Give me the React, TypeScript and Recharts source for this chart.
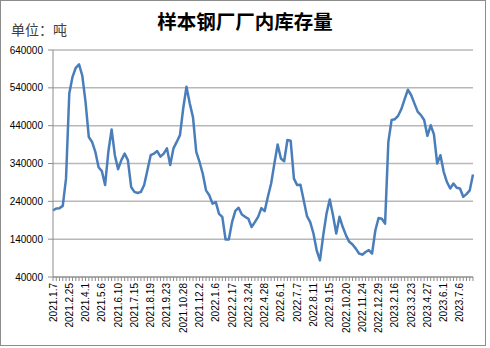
import { LineChart, Line, XAxis, YAxis, CartesianGrid } from 'recharts';

const dates = [
  '2021.1.7', '2021.1.14', '2021.1.21', '2021.1.28', '2021.2.4', '2021.2.25', '2021.3.4', '2021.3.11', '2021.3.18', '2021.3.25',
  '2021.4.1', '2021.4.8', '2021.4.15', '2021.4.22', '2021.4.29', '2021.5.6', '2021.5.13', '2021.5.20', '2021.5.27', '2021.6.3',
  '2021.6.10', '2021.6.17', '2021.6.24', '2021.7.1', '2021.7.8', '2021.7.15', '2021.7.22', '2021.7.29', '2021.8.5', '2021.8.12',
  '2021.8.19', '2021.8.26', '2021.9.2', '2021.9.9', '2021.9.16', '2021.9.23', '2021.9.30', '2021.10.8', '2021.10.14', '2021.10.21',
  '2021.10.28', '2021.11.4', '2021.11.11', '2021.11.18', '2021.11.25', '2021.12.2', '2021.12.9', '2021.12.16', '2021.12.23', '2021.12.30',
  '2022.1.6', '2022.1.13', '2022.1.20', '2022.1.27', '2022.2.10', '2022.2.17', '2022.2.24', '2022.3.3', '2022.3.10', '2022.3.17',
  '2022.3.24', '2022.3.31', '2022.4.7', '2022.4.14', '2022.4.21', '2022.4.28', '2022.5.5', '2022.5.12', '2022.5.19', '2022.5.26',
  '2022.6.1', '2022.6.9', '2022.6.16', '2022.6.23', '2022.6.30', '2022.7.7', '2022.7.14', '2022.7.21', '2022.7.28', '2022.8.4',
  '2022.8.11', '2022.8.18', '2022.8.25', '2022.9.1', '2022.9.8', '2022.9.15', '2022.9.22', '2022.9.29', '2022.10.6', '2022.10.13',
  '2022.10.20', '2022.10.27', '2022.11.3', '2022.11.10', '2022.11.17', '2022.11.24', '2022.12.1', '2022.12.8', '2022.12.15', '2022.12.22',
  '2022.12.29', '2023.1.5', '2023.1.12', '2023.2.2', '2023.2.9', '2023.2.16', '2023.2.23', '2023.3.2', '2023.3.9', '2023.3.16',
  '2023.3.23', '2023.3.30', '2023.4.6', '2023.4.13', '2023.4.20', '2023.4.27', '2023.5.4', '2023.5.11', '2023.5.18', '2023.5.25',
  '2023.6.1', '2023.6.8', '2023.6.15', '2023.6.21', '2023.6.29', '2023.7.6', '2023.7.13', '2023.7.20', '2023.7.27', '2023.8.3',
];

// 库存（吨）
const stock = [
  216000, 221000, 222000, 228000, 300000, 525000, 569000, 593000, 602000, 572000,
  502000, 410000, 397000, 371000, 330000, 320000, 283000, 371000, 430000, 362000,
  325000, 349000, 366000, 349000, 278000, 265000, 262000, 265000, 283000, 322000,
  362000, 366000, 373000, 358000, 366000, 380000, 336000, 380000, 397000, 415000,
  486000, 543000, 499000, 462000, 371000, 344000, 313000, 269000, 256000, 234000,
  238000, 207000, 199000, 139000, 139000, 185000, 215000, 223000, 205000, 199000,
  194000, 172000, 185000, 199000, 222000, 214000, 252000, 287000, 340000, 390000,
  353000, 346000, 402000, 400000, 300000, 283000, 284000, 243000, 201000, 185000,
  155000, 110000, 84000, 150000, 207000, 245000, 203000, 155000, 199000, 172000,
  150000, 133000, 126000, 115000, 102000, 99000, 106000, 111000, 102000, 163000,
  196000, 194000, 181000, 397000, 455000, 457000, 466000, 484000, 510000, 535000,
  521000, 499000, 477000, 468000, 455000, 413000, 441000, 417000, 340000, 362000,
  318000, 291000, 274000, 287000, 276000, 274000, 252000, 259000, 269000, 311000,
];

const yTicks = [40000, 140000, 240000, 340000, 440000, 540000, 640000];

const data = dates.map((d, i) => ({ date: d, stock: stock[i] }));

const tickFont = '"Liberation Sans", Arial, sans-serif';

function DateTick(props: any) {
  const { x, y, payload, index } = props;
  if (index % 5 !== 0) return null;
  return (
    <text
      x={x}
      y={y}
      transform={`rotate(-90, ${x}, ${y})`}
      textAnchor="end"
      dy="0.35em"
      fontSize={10}
      fontFamily={tickFont}
      fill="#000"
    >
      {payload.value}
    </text>
  );
}

export default function App() {
  return (
    <div style={{ position: 'absolute', left: 0, top: 0, width: 490, height: 348, background: '#fff' }}>
      <div
        style={{
          position: 'absolute',
          left: 0,
          top: 0,
          width: 486,
          height: 346,
          border: '1px solid #8c8c8c',
          boxSizing: 'border-box',
        }}
      />
      <div
        style={{
          position: 'absolute',
          left: 0,
          width: 490,
          top: 8,
          textAlign: 'center',
          fontFamily: '"Noto Sans CJK SC", sans-serif',
          fontWeight: 700,
          fontSize: 19.5,
          lineHeight: '26px',
          color: '#000',
        }}
      >
        样本钢厂厂内库存量
      </div>
      <div
        style={{
          position: 'absolute',
          left: 11,
          top: 20,
          fontFamily: '"Noto Sans CJK SC", sans-serif',
          fontSize: 14,
          lineHeight: '18px',
          color: '#404040',
        }}
      >
        单位：吨
      </div>
      <div style={{ position: 'absolute', left: 0, top: 0 }}>
        <LineChart width={490} height={348} data={data} margin={{ top: 50, right: 17, bottom: 11, left: 3 }}>
          <CartesianGrid vertical={false} stroke="#b8b8b8" strokeWidth={1.5} />
          <XAxis
            dataKey="date"
            interval={0}
            height={60}
            tick={<DateTick />}
            tickSize={4}
            tickMargin={2}
            axisLine={{ stroke: '#8c8c8c' }}
            tickLine={{ stroke: '#8c8c8c' }}
          />
          <YAxis
            width={50}
            domain={[40000, 640000]}
            ticks={yTicks}
            interval={0}
            tickSize={5}
            tickMargin={5}
            tick={{ fontSize: 10, fill: '#000', fontFamily: tickFont }}
            axisLine={{ stroke: '#8c8c8c' }}
            tickLine={{ stroke: '#8c8c8c' }}
          />
          <Line
            type="linear"
            dataKey="stock"
            stroke="#4a7ebb"
            strokeWidth={2.5}
            dot={false}
            strokeLinejoin="round"
            isAnimationActive={false}
          />
        </LineChart>
      </div>
    </div>
  );
}
